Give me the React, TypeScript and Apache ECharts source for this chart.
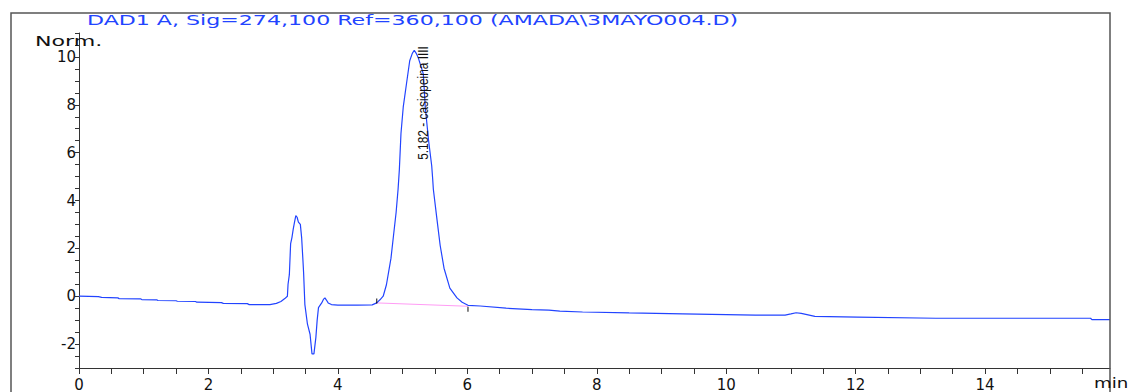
import React, { useEffect, useRef } from 'react';
import * as echarts from 'echarts';

// Chromatogram trace: retention time (min) and detector response (Norm.)
const retentionMin = [
  0.0, 0.3, 0.35, 0.6, 0.62, 0.95, 0.97, 1.2, 1.22, 1.5, 1.52, 1.8, 1.82, 2.2, 2.23, 2.6, 2.63, 2.95,
  3.05, 3.12, 3.18, 3.22, 3.23, 3.25, 3.27, 3.29, 3.31, 3.33, 3.35, 3.37, 3.39, 3.42, 3.44, 3.46, 3.47,
  3.49, 3.53, 3.57, 3.6, 3.63, 3.66, 3.68, 3.7, 3.75, 3.78, 3.8, 3.82, 3.85, 3.9, 4.0, 4.3, 4.53,
  4.6, 4.65, 4.7, 4.75, 4.82, 4.86, 4.9, 4.93, 4.95, 4.975, 5.01, 5.06, 5.11, 5.15, 5.18, 5.21, 5.24,
  5.32, 5.35, 5.4, 5.45, 5.465, 5.475, 5.53, 5.58, 5.64, 5.73, 5.84, 5.92, 6.01, 6.2, 6.6, 7.0, 7.26,
  7.43, 7.78, 8.5, 9.33, 10.45, 10.91, 11.0, 11.08, 11.16, 11.23, 11.37, 12.03, 13.24, 15.63, 15.65,
  15.93,
];
const signalNorm = [
  0.0, -0.02, -0.05, -0.07, -0.1, -0.11, -0.14, -0.15, -0.18, -0.19, -0.21, -0.22, -0.25, -0.27, -0.3,
  -0.31, -0.35, -0.35, -0.3, -0.22, -0.1, 0.0, 0.5, 0.9, 2.2, 2.45, 2.8, 3.1, 3.37, 3.3, 3.1, 3.0,
  2.45, 1.5, 1.0, -0.35, -1.17, -1.59, -2.41, -2.41, -1.72, -1.0, -0.48, -0.28, -0.12, -0.07, -0.15,
  -0.28, -0.35, -0.37, -0.37, -0.36, -0.28, -0.15, 0.0, 0.48, 1.58, 2.55, 3.51, 4.47, 5.3, 6.81, 7.91,
  8.88, 9.84, 10.15, 10.28, 10.15, 9.98, 9.29, 7.91, 6.54, 5.44, 4.89, 4.47, 3.23, 2.13, 1.17, 0.34,
  -0.07, -0.25, -0.38, -0.41, -0.5, -0.56, -0.58, -0.62, -0.66, -0.7, -0.74, -0.79, -0.79, -0.74,
  -0.69, -0.72, -0.76, -0.84, -0.87, -0.92, -0.92, -0.98, -0.98,
];

// Integration baseline of the main peak (start / end)
const baselineStart = [4.6, -0.28];
const baselineEnd = [6.01, -0.42];

// Peak annotation
const peakRetention = 5.182;
const peakName = 'casiopeina IIII';

// Tick labels
const xLabelValues = [0, 2, 4, 6, 8, 10, 12, 14];
const yLabelValues = [-2, 0, 2, 4, 6, 8, 10];

const signalTitle = 'DAD1 A, Sig=274,100 Ref=360,100 (AMADA\\3MAYO004.D)';
const yUnit = 'Norm.';
const xUnit = 'min';

const BLUE = '#2244ff';
const FONT = 'DejaVu Sans';

export default function App() {
  const ref = useRef<HTMLDivElement>(null);

  useEffect(() => {
    if (!ref.current) return;
    const chart = echarts.init(ref.current, undefined, { renderer: 'svg' });

    const trace = retentionMin.map((t, i) => [t, signalNorm[i]]);

    chart.setOption({
      animation: false,
      backgroundColor: '#ffffff',
      grid: { left: 79, right: 23, top: 33, bottom: 20, containLabel: false },
      xAxis: {
        type: 'value',
        min: 0,
        max: 15.93,
        interval: 0.5,
        axisLine: { show: true, onZero: false, lineStyle: { color: '#333', width: 1 } },
        axisTick: { show: true, length: 6, lineStyle: { color: '#333' } },
        splitLine: { show: false },
        axisLabel: {
          margin: 9,
          fontSize: 15,
          fontFamily: FONT,
          color: '#111',
          showMaxLabel: false,
          formatter: (v: number) => (xLabelValues.some((x) => Math.abs(x - v) < 1e-6) ? String(v) : ''),
        },
      },
      yAxis: {
        type: 'value',
        min: -3,
        max: 11,
        interval: 0.5,
        axisLine: { show: true, onZero: false, lineStyle: { color: '#333', width: 1 } },
        axisTick: { show: true, length: 4, lineStyle: { color: '#333' } },
        splitLine: { show: false },
        axisLabel: {
          margin: 3,
          fontSize: 15,
          fontFamily: FONT,
          color: '#111',
          formatter: (v: number) => (yLabelValues.some((y) => Math.abs(y - v) < 1e-6) ? String(v) : ''),
        },
      },
      series: [
        {
          type: 'line',
          data: trace,
          showSymbol: false,
          lineStyle: { color: BLUE, width: 1.2 },
          z: 3,
        },
        {
          type: 'line',
          data: [baselineStart, baselineEnd],
          showSymbol: false,
          lineStyle: { color: '#ff9cf5', width: 1 },
          z: 2,
        },
        {
          type: 'scatter',
          data: [
            { value: baselineStart, symbolOffset: [0, -2] },
            { value: baselineEnd, symbolOffset: [0, 3] },
          ],
          symbol: 'rect',
          symbolSize: [1.2, 5],
          itemStyle: { color: '#000' },
          z: 4,
        },
      ],
    });

    const labelPos = chart.convertToPixel({ gridIndex: 0 }, [peakRetention, 5.7]) as number[];

    chart.setOption({
      graphic: [
        {
          type: 'rect',
          shape: { x: 11, y: 13, width: 1099, height: 400 },
          style: { fill: 'none', stroke: '#555', lineWidth: 1.5 },
          silent: true,
          z: 10,
        },
        {
          type: 'text',
          x: 87,
          y: 20,
          scaleX: 1.58,
          style: {
            text: signalTitle,
            fill: BLUE,
            font: `14px "${FONT}"`,
            verticalAlign: 'middle',
          },
          z: 11,
        },
        {
          type: 'text',
          x: 35,
          y: 41,
          scaleX: 1.58,
          style: {
            text: yUnit,
            fill: '#111',
            font: `14px "${FONT}"`,
            verticalAlign: 'middle',
          },
          z: 11,
        },
        {
          type: 'text',
          x: 1094,
          y: 376,
          scaleX: 1.3,
          style: {
            text: xUnit,
            fill: '#111',
            font: `14px "${FONT}"`,
            verticalAlign: 'top',
          },
          z: 11,
        },
        {
          type: 'text',
          x: labelPos[0] + 9,
          y: labelPos[1],
          rotation: Math.PI / 2,
          scaleX: 0.85,
          style: {
            text: `${peakRetention} - ${peakName}`,
            fill: '#111',
            font: '14px "Liberation Sans"',
            align: 'left',
            verticalAlign: 'middle',
          },
          z: 11,
        },
      ],
    });

    return () => chart.dispose();
  }, []);

  return (
    <div
      ref={ref}
      style={{ position: 'fixed', left: 0, top: 0, width: 1133, height: 392, background: '#fff' }}
    />
  );
}
